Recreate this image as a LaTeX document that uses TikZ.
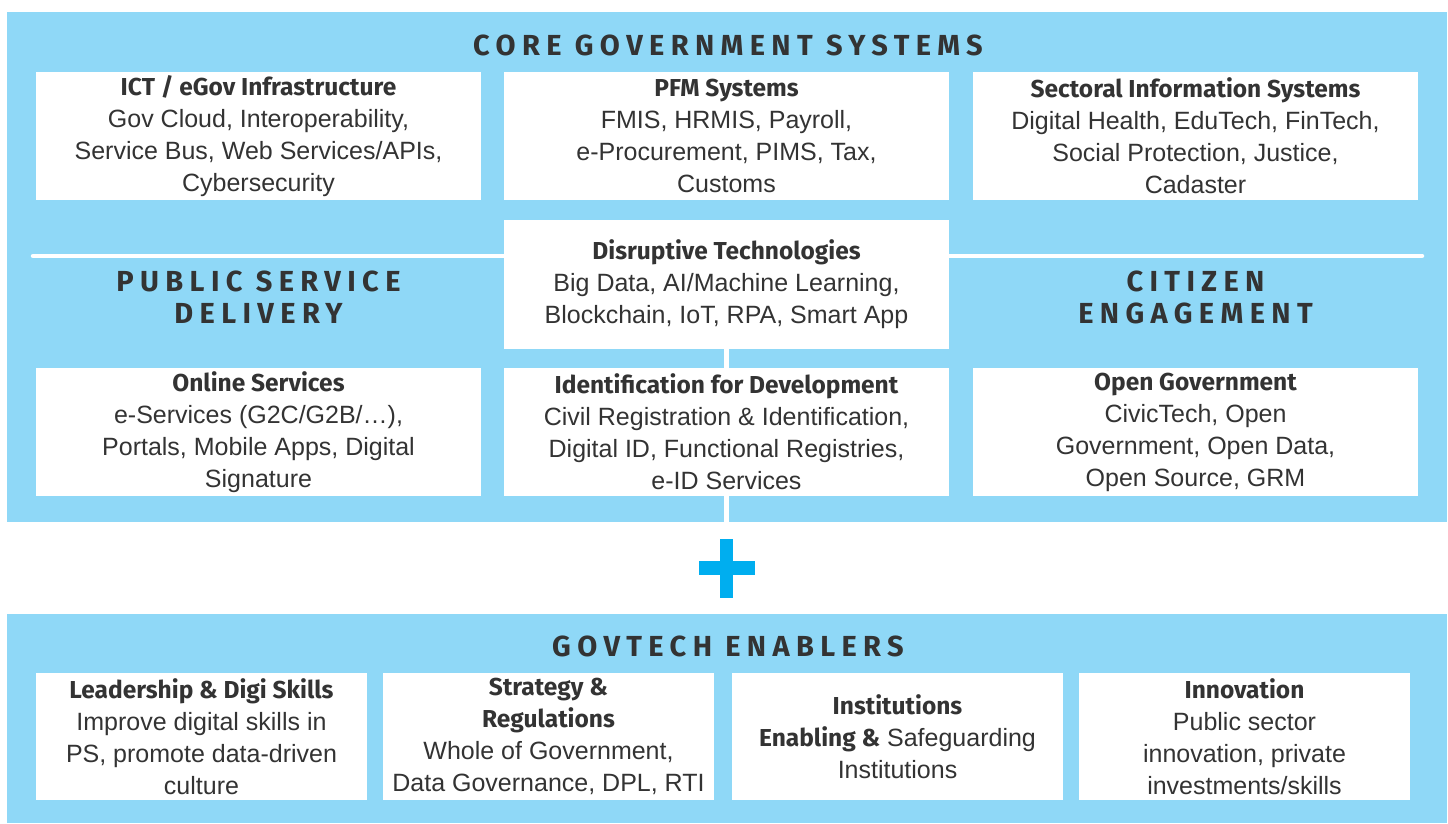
\documentclass[tikz,border=0pt]{standalone}
\usepackage{fontspec}
\setmainfont{Liberation Sans}
\newfontfamily\hdfont{Fira Sans}
\newfontfamily\capsfont{Fira Sans}[LetterSpace=22]
\definecolor{panelblue}{HTML}{8FD8F7}
\definecolor{plusblue}{HTML}{00AEEF}
\definecolor{txtgray}{HTML}{333333}
\newcommand{\hd}[1]{{\hdfont\bfseries\fontsize{24.5}{32}\selectfont #1}}
\tikzset{
  panel/.style={fill=panelblue, inner sep=0pt},
  box/.style={fill=white, inner sep=0pt, align=center, text=txtgray,
    font=\fontsize{25}{32}\selectfont},
  wide/.style={box, minimum width=445pt},
  narrow/.style={box, minimum width=331pt, minimum height=127pt},
  heading/.style={align=center, text=txtgray,
    font=\capsfont\bfseries\fontsize{29}{32}\selectfont},
  divider/.style={white, line width=4.5pt, line cap=round}
}
\begin{document}
\begin{tikzpicture}[x=1pt, y=-1pt]
  \useasboundingbox (0,0) rectangle (1448,823);
  \node[panel, minimum width=1440pt, minimum height=510pt] (core) at (727,267) {};
  \node[panel, minimum width=1440pt, minimum height=209pt] (enablers) at (727,718.5) {};
  \coordinate (divL) at (33,256);
  \coordinate (divR) at (1422,256);
  \draw[divider] (divL) -- (divR);
  \draw
    (728,45) node[heading] (coretitle) {CORE GOVERNMENT SYSTEMS}
    (258.5,297) node[heading] (psd) {PUBLIC SERVICE\\DELIVERY}
    (1195.5,297) node[heading] (cit) {CITIZEN\\ENGAGEMENT}
    (728,646) node[heading] (entitle) {GOVTECH ENABLERS};
  \draw
    (258.5,136) node[wide, minimum height=128pt] (ict)
      {\hd{ICT / eGov Infrastructure}\\Gov Cloud, Interoperability,\\Service Bus, Web Services/APIs,\\Cybersecurity}
    (726.5,136) node[wide, minimum height=128pt] (pfm)
      {\hd{PFM Systems}\\FMIS, HRMIS, Payroll,\\e-Procurement, PIMS, Tax,\\Customs}
    (1195.5,136) node[wide, minimum height=128pt] (sect)
      {\hd{Sectoral Information Systems}\\Digital Health, EduTech, FinTech,\\Social Protection, Justice,\\Cadaster}
    (726.5,284.5) node[wide, minimum height=129pt] (disr)
      {\hd{Disruptive Technologies}\\Big Data, AI/Machine Learning,\\Blockchain, IoT, RPA, Smart App}
    (258.5,432) node[wide, minimum height=128pt] (online)
      {\hd{Online Services}\\e-Services (G2C/G2B/\ldots),\\Portals, Mobile Apps, Digital\\Signature}
    (726.5,432) node[wide, minimum height=128pt] (ident)
      {\hd{Identification for Development}\\Civil Registration \& Identification,\\Digital ID, Functional Registries,\\e-ID Services}
    (1195.5,432) node[wide, minimum height=128pt] (opengov)
      {\hd{Open Government}\\CivicTech, Open\\Government, Open Data,\\Open Source, GRM};
  \draw
    (201.5,736.5) node[narrow] (lead)
      {\hd{Leadership \& Digi Skills}\\Improve digital skills in\\PS, promote data-driven\\culture}
    (548.5,736.5) node[narrow] (strat)
      {\hd{Strategy \&}\\\hd{Regulations}\\Whole of Government,\\Data Governance, DPL, RTI}
    (897.5,736.5) node[narrow] (inst)
      {\hd{Institutions}\\\hd{Enabling \&} Safeguarding\\Institutions}
    (1244.5,736.5) node[narrow] (innov)
      {\hd{Innovation}\\Public sector\\innovation, private\\investments/skills};
  \begin{scope}[divider, line cap=butt]
    \draw (disr) to (ident);
    \draw (ident.south) to (ident.south |- core.south);
  \end{scope}
  % plus sign
  \fill[plusblue] (720,539) rectangle (733,598);
  \fill[plusblue] (699,561) rectangle (755,575);
\end{tikzpicture}
\end{document}
